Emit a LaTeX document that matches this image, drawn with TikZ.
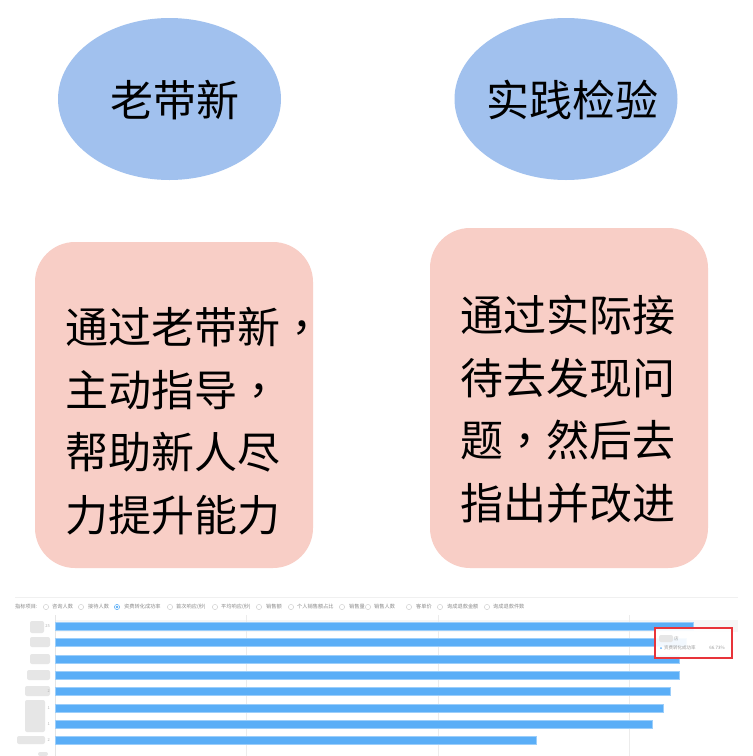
\documentclass[tikz,border=0pt]{standalone}
\usepackage{fontspec}
\setmainfont{Noto Sans CJK SC}
\newfontfamily\tcfont{Noto Sans CJK TC}
\newcommand{\zcomma}{{\tcfont ，}}
\definecolor{ellblue}{HTML}{A1C1EE}
\definecolor{boxpink}{HTML}{F8CEC6}
\definecolor{barblue}{HTML}{5AAEF7}
\definecolor{legendgray}{HTML}{8A8A8A}
\definecolor{blobgray}{HTML}{E6E6E6}
\definecolor{tipred}{HTML}{E8343A}
\tikzset{
  bigtext/.style={font=\fontsize{43}{62.5}\selectfont, inner sep=0pt, text=black},
  ellipsenode/.style={ellipse, fill=ellblue, minimum width=223pt, minimum height=162pt, inner sep=0pt},
  pinkbox/.style={fill=boxpink, rounded corners=40pt},
  legtext/.style={font=\fontsize{5.2}{6}\selectfont, text=legendgray, inner sep=0pt, anchor=west},
  legcircle/.style={draw=gray!45, line width=0.4pt, fill=white},
  bar/.style={fill=barblue, draw=barblue!60, line width=0.4pt},
  grid/.style={draw=gray!15, line width=0.5pt},
  blob/.style={fill=blobgray, rounded corners=2pt},
}
\usetikzlibrary{shapes.geometric}
\begin{document}
\begin{tikzpicture}[x=1pt, y=-1pt]
\useasboundingbox (0,0) rectangle (753,756);
\fill[white] (0,0) rectangle (753,756);

% ellipses
\node[ellipsenode] (e1) at (169.5,99) {};
\node[ellipsenode] (e2) at (566,99) {};
\node[bigtext] (t1) at (175,100) {老带新};
\node[bigtext] (t2) at (572,100) {实践检验};

% pink boxes
\fill[pinkbox] (35,242) rectangle (313,568);
\fill[pinkbox] (430,228) rectangle (708,568);
\node[bigtext, align=left, anchor=west] (b1) at (65,421)
  {通过老带新\zcomma\\主动指导\zcomma\\帮助新人尽\\力提升能力};
\node[bigtext, align=left, anchor=west] (b2) at (460,409)
  {通过实际接\\待去发现问\\题\zcomma 然后去\\指出并改进};

% chart top line
\draw[draw=gray!12, line width=0.6pt] (15,597) -- (738,597);

% legend
\node[legtext] (lg0) at (15,607) {指标项目:};
\foreach \cx/\tx/\nm in {46/52/咨询人数, 81/88/接待人数, 170/176/首次响应(秒), 215/221/平均响应(秒), 259/266/销售额, 291/297/个人销售额占比, 342/349/销售量, 368/374/销售人数, 409/416/客单价, 440/447/询成退款金额, 487/493/询成退款件数}{
  \draw[legcircle] (\cx,607) circle (2.6);
  \node[legtext] at (\tx,607) {\nm};
}
\draw[draw=barblue, line width=0.5pt, fill=white] (117,607) circle (2.6);
\fill[barblue] (117,607) circle (1.4);
\node[legtext] (lgsel) at (124,607) {资费转化成功率};

% highlight band for first row
\fill[color=gray!7] (55,620) rectangle (738,632);

% grid lines
\foreach \gx in {246,438,629}{
  \draw[grid] (\gx,615) -- (\gx,756);
}
\draw[draw=gray!20, line width=0.5pt] (55,615) -- (55,756);

% bars
\foreach \yy/\xe in {626/693, 642/686, 659/679, 675/679, 691/670, 708/663, 724/652, 740/536}{
  \draw[bar] (55,\yy-4) rectangle (\xe,\yy+4);
}

% blurred category labels
\fill[blob] (30,621) rectangle (44,633);
\fill[blob] (30,637) rectangle (50,647);
\fill[blob] (30,654) rectangle (50,664);
\fill[blob] (27,670) rectangle (50,680);
\fill[blob] (25,686) rectangle (50,696);
\fill[blob] (25,700) rectangle (45,732);
\fill[blob] (17,736) rectangle (45,744);
\fill[blob] (38,752) rectangle (48,756);
\foreach \yy/\tt in {626/25, 691/2, 708/1, 724/1, 740/2}{
  \node[font=\fontsize{4}{5}\selectfont, text=gray!60, inner sep=0pt, anchor=east] at (50,\yy) {\tt};
}

% tooltip
\draw[draw=tipred, line width=1.8pt, fill=white, fill opacity=0.92] (655,628) rectangle (732,658);
\fill[blob] (659,635) rectangle (673,642);
\node[font=\fontsize{4.5}{5}\selectfont, text=gray!70, inner sep=0pt, anchor=west] (tipname) at (674,638.5) {店};
\fill[barblue] (661,648) circle (1);
\node[font=\fontsize{4.5}{5}\selectfont, text=gray!80, inner sep=0pt, anchor=west] (tiplabel) at (664,648) {资费转化成功率};
\node[font=\fontsize{4.5}{5}\selectfont, text=gray!80, inner sep=0pt, anchor=east] (tipval) at (725,648) {66.73\%};
\end{tikzpicture}
\end{document}
